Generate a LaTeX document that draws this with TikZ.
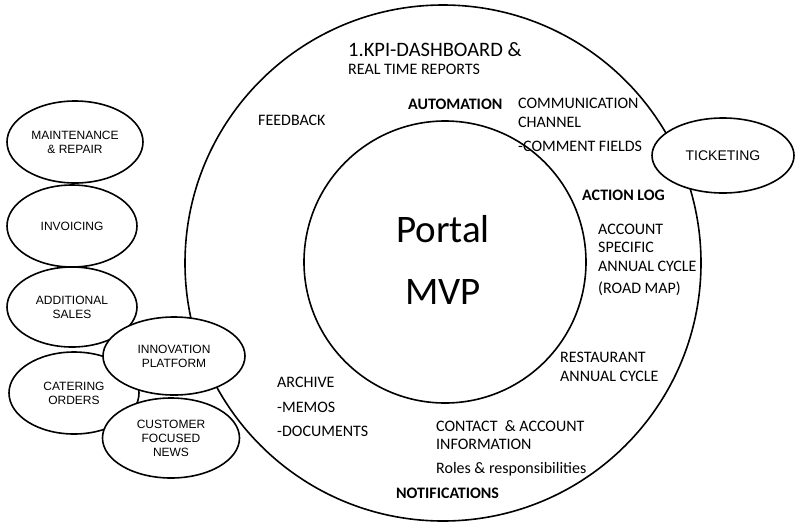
\documentclass[tikz,border=0pt]{standalone}
\usepackage{fontspec}
\setmainfont{Carlito}
\newfontfamily\arialf{Liberation Sans}
\usetikzlibrary{shapes.geometric}
\begin{document}
\begin{tikzpicture}[x=1pt,y=-1pt,
  lbl/.style={anchor=base west, inner sep=0, font=\fontsize{16}{19}\selectfont},
  blbl/.style={anchor=base west, inner sep=0, font=\fontsize{16}{19}\selectfont\bfseries},
  big/.style={anchor=base, inner sep=0, font=\fontsize{39}{47}\selectfont},
  bubble/.style={ellipse, draw, line width=1.6pt, fill=white, inner sep=0, align=center, font=\arialf\fontsize{12}{14}\selectfont},
  ring/.style={circle, draw, line width=1.6pt, inner sep=0}]
\useasboundingbox[fill=white] (0,0) rectangle (795,523);
% rings
\node[ring, minimum size=516pt] (outer) at (443,263) {};
\node[ring, minimum size=282pt] (inner) at (445,262) {};
% centre text
\node[big] (portal) at (443,242) {Portal};
\node[big] (mvp) at (443,304) {MVP};
% labels in the ring
\node[lbl, font=\fontsize{20.5}{24}\selectfont] (kpi) at (348,56) {1.KPI-DASHBOARD \&};
\node[lbl] (rtr) at (348,74) {REAL TIME REPORTS};
\node[lbl] (feedback) at (258,125) {FEEDBACK};
\node[blbl] (automation) at (408,109) {AUTOMATION};
\node[lbl] (comm) at (518,108) {COMMUNICATION};
\node[lbl] (chan) at (518,127) {CHANNEL};
\node[lbl] (cf) at (518,151) {-COMMENT FIELDS};
\node[blbl] (actionlog) at (582,200) {ACTION LOG};
\node[lbl] (acc) at (598,234) {ACCOUNT};
\node[lbl] (spec) at (598,252) {SPECIFIC};
\node[lbl] (annual) at (598,271) {ANNUAL CYCLE};
\node[lbl] (roadmap) at (598,293) {(ROAD MAP)};
\node[lbl] (rest) at (560,362) {RESTAURANT};
\node[lbl] (annual2) at (560,381) {ANNUAL CYCLE};
\node[lbl] (archive) at (277,387) {ARCHIVE};
\node[lbl] (memos) at (277,412) {-MEMOS};
\node[lbl] (docs) at (277,436) {-DOCUMENTS};
\node[lbl] (contact) at (436,431) {CONTACT\ \ \& ACCOUNT};
\node[lbl] (info) at (436,449) {INFORMATION};
\node[lbl] (roles) at (436,473) {Roles \& responsibilities};
\node[blbl] (notif) at (396,498) {NOTIFICATIONS};
% bubbles
\node[bubble, minimum width=142pt, minimum height=75pt, font=\arialf\fontsize{14}{16}\selectfont] (ticketing) at (723,155.5) {TICKETING};
\node[bubble, minimum width=136pt, minimum height=82pt] (maint) at (75,142) {MAINTENANCE\\\& REPAIR};
\node[bubble, minimum width=130pt, minimum height=82pt] (invoicing) at (72,226) {INVOICING};
\node[bubble, minimum width=130pt, minimum height=80pt] (additional) at (72,307) {ADDITIONAL\\SALES};
\node[bubble, minimum width=130pt, minimum height=82pt] (catering) at (74,393) {CATERING\\ORDERS};
\node[bubble, minimum width=142pt, minimum height=78pt] (innovation) at (174,356) {INNOVATION\\PLATFORM};
\node[bubble, minimum width=137pt, minimum height=80pt] (customer) at (171,438) {CUSTOMER\\FOCUSED\\NEWS};
\end{tikzpicture}
\end{document}
